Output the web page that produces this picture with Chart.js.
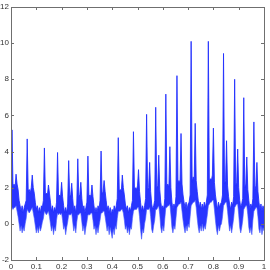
<!DOCTYPE html>
<html>
<head>
<meta charset="utf-8">
<script src="https://cdn.jsdelivr.net/npm/chart.js@4"></script>
<style>
  html, body { margin: 0; padding: 0; background: #fff; }
  canvas { display: block; }
</style>
</head>
<body>
<canvas id="grafico" width="270" height="270"></canvas>
<script>
// sinal denso: para cada amostra, o maximo e o minimo
const passoAmostra = 0.004;
const envelopeSuperior = [
  1.6, 5.2, 2.0, 2.2, 2.0, 2.75, 2.2, 1.9, 1.3, 1.0,
  0.7, 1.0, 0.6, 0.9, 1.1, 1.3, 4.7, 1.8, 1.9, 1.7,
  2.0, 2.7, 2.0, 1.7, 1.2, 0.8, 1.0, 0.6, 0.9, 0.6,
  1.0, 0.9, 1.3, 4.2, 1.6, 1.7, 1.6, 2.15, 1.7, 1.2,
  0.7, 1.0, 0.6, 0.9, 0.7, 1.2, 3.95, 1.5, 1.6, 1.5,
  2.3, 1.5, 1.0, 0.6, 0.9, 0.6, 1.1, 3.5, 1.5, 1.6,
  2.25, 1.4, 0.7, 1.0, 0.6, 1.1, 3.6, 1.5, 1.6, 2.3,
  1.4, 0.8, 1.0, 0.6, 0.9, 1.2, 3.75, 1.5, 1.6, 1.5,
  2.15, 1.5, 1.0, 0.6, 0.9, 0.6, 1.0, 0.8, 1.3, 4.03,
  1.6, 1.8, 2.4, 1.8, 1.3, 0.8, 1.0, 0.6, 0.9, 0.5,
  0.8, 0.6, 1.0, 0.7, 1.0, 1.4, 4.77, 1.8, 1.9, 1.8,
  2.7, 2.0, 1.6, 1.1, 0.8, 1.0, 0.6, 0.9, 0.7, 1.0,
  1.3, 5.1, 1.9, 2.0, 1.9, 2.1, 3.0, 1.8, 1.2, 0.7,
  1.0, 0.7, 1.0, 1.4, 6.06, 1.9, 2.0, 3.4, 1.8, 1.1,
  0.8, 1.0, 1.3, 6.45, 2.0, 2.1, 3.8, 1.9, 1.2, 0.8,
  1.0, 0.8, 1.4, 7.18, 2.1, 2.2, 2.0, 4.27, 2.0, 1.2,
  0.8, 1.1, 0.9, 1.5, 8.2, 2.2, 2.4, 2.2, 5.0, 2.2,
  1.6, 1.2, 0.9, 1.2, 0.8, 1.1, 1.2, 1.6, 10.1, 2.3,
  2.6, 2.4, 5.56, 2.4, 1.8, 1.3, 0.9, 1.2, 0.8, 1.1,
  0.8, 1.2, 0.9, 1.2, 1.6, 10.1, 2.3, 2.5, 2.4, 2.7,
  5.3, 2.3, 1.6, 1.2, 0.8, 1.2, 0.9, 1.1, 1.2, 1.6,
  9.43, 2.2, 2.4, 4.6, 2.1, 1.5, 1.1, 0.8, 1.2, 1.0,
  1.5, 8.0, 2.1, 2.3, 4.14, 2.0, 1.3, 0.9, 1.1, 1.4,
  6.98, 2.0, 2.2, 3.7, 1.9, 1.3, 0.8, 1.1, 0.9, 1.4,
  5.64, 1.9, 2.1, 3.4, 1.8, 1.2, 0.8, 1.1, 0.7, 1.0,
  0.8
];
const envelopeInferior = [
  0.5, 0.9, 0.8, 0.9, 0.9, 1.0, 0.7, 0.4, 0.0, -0.4,
  -0.1, -0.5, -0.2, -0.4, 0.0, 0.3, 0.8, 0.7, 0.6, 0.7,
  0.8, 0.9, 0.6, 0.3, -0.1, -0.5, -0.2, -0.5, -0.1, -0.4,
  -0.2, 0.1, 0.3, 0.7, 0.6, 0.5, 0.6, 0.7, 0.4, 0.0,
  -0.4, -0.1, -0.6, -0.2, -0.4, 0.2, 0.6, 0.5, 0.6, 0.5,
  0.6, 0.2, -0.3, -0.1, -0.6, -0.2, 0.1, 0.5, 0.5, 0.5,
  0.6, 0.1, -0.4, -0.1, -0.5, 0.1, 0.5, 0.5, 0.6, 0.6,
  0.1, -0.4, -0.1, -0.6, -0.2, 0.1, 0.5, 0.5, 0.5, 0.6,
  0.6, 0.2, -0.3, -0.1, -0.6, -0.2, -0.5, -0.1, 0.2, 0.6,
  0.6, 0.7, 0.7, 0.4, 0.0, -0.4, -0.1, -0.6, -0.2, -0.5,
  -0.8, -0.3, -0.6, -0.1, -0.3, 0.3, 0.7, 0.7, 0.7, 0.8,
  0.8, 0.6, 0.2, -0.3, -0.1, -0.5, -0.2, -0.6, -0.2, -0.3,
  0.3, 0.7, 0.8, 0.8, 0.8, 0.9, 0.9, 0.4, -0.3, -0.85,
  -0.3, -0.5, 0.0, 0.3, 0.8, 0.8, 0.8, 0.9, 0.4, -0.3,
  -0.5, -0.1, 0.2, 0.8, 0.8, 0.9, 1.0, 0.5, -0.2, -0.5,
  -0.1, -0.4, 0.3, 0.9, 0.9, 1.0, 1.0, 1.1, 0.5, -0.2,
  -0.5, -0.1, -0.3, 0.3, 0.9, 1.0, 1.1, 1.1, 1.2, 0.7,
  0.2, -0.2, -0.5, -0.1, -0.4, 0.0, -0.2, 0.4, 1.0, 1.1,
  1.2, 1.2, 1.3, 0.9, 0.3, -0.2, -0.5, -0.1, -0.4, 0.0,
  -0.4, -0.1, -0.3, 0.1, 0.5, 1.0, 1.1, 1.2, 1.2, 1.3,
  1.3, 0.8, 0.2, -0.3, -0.6, -0.1, -0.4, -0.1, 0.0, 0.4,
  1.0, 1.1, 1.2, 1.2, 0.7, 0.1, -0.4, -0.1, -0.5, -0.1,
  0.3, 0.9, 1.0, 1.1, 1.1, 0.5, -0.2, -0.5, -0.2, 0.2,
  0.8, 0.9, 1.0, 1.0, 0.5, -0.2, -0.5, -0.2, -0.6, 0.2,
  0.7, 0.8, 0.9, 0.9, 0.4, -0.3, -0.5, -0.1, -0.6, -0.2,
  -0.4
];

const ticksX = [0, 0.1, 0.2, 0.3, 0.4, 0.5, 0.6, 0.7, 0.8, 0.9, 1];
const rotulosX = ['0', '0.1', '0.2', '0.3', '0.4', '0.5', '0.6', '0.7', '0.8', '0.9', '1'];
const ticksY = [-2, 0, 2, 4, 6, 8, 10, 12];
const rotulosY = ['-2', '0', '2', '4', '6', '8', '10', '12'];

const paraPontos = arr => arr.map((v, i) => ({ x: i * passoAmostra, y: v }));

// caixa estilo matlab, com marcas para dentro nos quatro lados
const caixaPlugin = {
  id: 'caixa',
  afterDraw(chart) {
    const { ctx, chartArea: a, scales } = chart;
    const tam = 3;
    ctx.save();
    ctx.strokeStyle = '#6f6f6f';
    ctx.lineWidth = 1;
    ctx.beginPath();
    ticksX.forEach(v => {
      const px = Math.round(scales.x.getPixelForValue(v)) + 0.5;
      ctx.moveTo(px, a.bottom); ctx.lineTo(px, a.bottom - tam);
      ctx.moveTo(px, a.top); ctx.lineTo(px, a.top + tam);
    });
    ticksY.forEach(v => {
      const py = Math.round(scales.y.getPixelForValue(v)) + 0.5;
      ctx.moveTo(a.left, py); ctx.lineTo(a.left + tam, py);
      ctx.moveTo(a.right, py); ctx.lineTo(a.right - tam, py);
    });
    ctx.stroke();
    ctx.strokeRect(Math.round(a.left) + 0.5, Math.round(a.top) + 0.5,
      Math.round(a.right - a.left), Math.round(a.bottom - a.top));
    ctx.restore();
  }
};

new Chart(document.getElementById('grafico'), {
  type: 'line',
  data: {
    datasets: [{
      data: paraPontos(envelopeInferior),
      borderColor: 'rgba(70, 90, 255, 0.6)',
      borderWidth: 1,
      pointRadius: 0,
      tension: 0,
      fill: false
    }, {
      data: paraPontos(envelopeSuperior),
      borderColor: 'rgba(30, 45, 255, 0.85)',
      backgroundColor: 'rgba(28, 42, 255, 0.95)',
      borderWidth: 1,
      pointRadius: 0,
      tension: 0,
      fill: '-1'
    }]
  },
  options: {
    responsive: false,
    animation: false,
    layout: { padding: { left: 0, right: 6, top: 7, bottom: 0 } },
    plugins: { legend: { display: false }, tooltip: { enabled: false } },
    scales: {
      x: {
        type: 'linear',
        min: 0,
        max: 1,
        afterBuildTicks: s => { s.ticks = ticksX.map(v => ({ value: v })); },
        afterFit: s => { s.height = 10; },
        grid: { display: false, drawTicks: false },
        border: { display: false },
        ticks: {
          callback: (v) => rotulosX[ticksX.indexOf(v)],
          maxRotation: 0,
          autoSkip: false,
          padding: 2,
          color: '#333',
          font: { family: 'Liberation Sans', size: 8 }
        }
      },
      y: {
        min: -2,
        max: 12,
        afterBuildTicks: s => { s.ticks = ticksY.map(v => ({ value: v })); },
        afterFit: s => { s.width = 11; },
        grid: { display: false, drawTicks: false },
        border: { display: false },
        ticks: {
          callback: (v) => rotulosY[ticksY.indexOf(v)],
          autoSkip: false,
          padding: 2,
          color: '#333',
          font: { family: 'Liberation Sans', size: 8 }
        }
      }
    }
  },
  plugins: [caixaPlugin]
});
</script>
</body>
</html>
